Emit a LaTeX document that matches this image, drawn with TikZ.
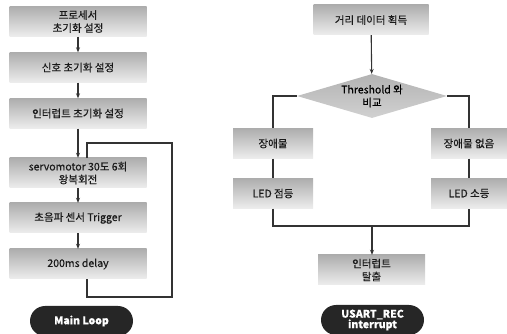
\documentclass[tikz,border=0pt]{standalone}
\usepackage{fontspec}
\setmainfont{Noto Sans CJK KR}[FakeBold=0.4]
\usetikzlibrary{shapes.geometric,arrows.meta}

\begin{document}
\begin{tikzpicture}[x=1pt, y=-1pt,
    box/.style={rectangle, top color=black!32, bottom color=black!7,
        minimum height=30pt, inner sep=1pt, align=center,
        font=\fontsize{10.5}{13}\selectfont, text=black!90},
    pill/.style={rectangle, rounded corners=15pt, fill=black!85,
        minimum width=103pt, minimum height=30pt, inner sep=1pt, align=center,
        text=white, font=\bfseries\fontsize{10.5}{10.5}\selectfont},
    line/.style={draw=black!80, line width=1.1pt},
    arr/.style={line, -{Stealth[length=5pt,width=4pt]}}]
    \clip (0, 0) rectangle (507, 334);
    % main loop
    \node[box, minimum width=137pt] (init1) at (78, 21.5) {프로세서\\초기화 설정};
    \node[box, minimum width=137pt] (init2) at (78, 67.5) {신호 초기화 설정};
    \node[box, minimum width=137pt] (init3) at (78, 113.5) {인터럽트 초기화 설정};
    \node[box, minimum width=137pt] (servo) at (78, 173) {servomotor 30도 6회\\왕복회전};
    \node[box, minimum width=137pt] (trig) at (78, 218) {초음파 센서 Trigger};
    \node[box, minimum width=137pt] (delay) at (78, 264) {200ms delay};
    \node[pill] (mainloop) at (81.5, 321) {Main Loop};
    \draw[arr] (init1) -- (init2);
    \draw[arr] (init2) -- (init3);
    \draw[arr] (init3) -- (servo);
    \draw[arr] (servo) -- (trig);
    \draw[arr] (trig) -- (delay);
    \coordinate (loopA) at (87, 297);
    \coordinate (loopB) at (172, 143);
    \draw[line] (delay.south -| loopA) -- (loopA) -| (loopB) -| (servo.north -| loopA);
    % interrupt
    \node[box, minimum width=115pt] (dist) at (371, 20) {거리 데이터 획득};
    \node[diamond, aspect=3.4, inner sep=0pt, minimum width=150pt, minimum height=44pt,
        top color=black!30, bottom color=black!18, align=center,
        font=\fontsize{10.5}{13}\selectfont] (cmp) at (372, 96) {Threshold 와\\비교};
    \node[box, minimum width=80pt] (obst) at (273, 143.5) {장애물};
    \node[box, minimum width=76pt] (noobst) at (469, 143.5) {장애물 없음};
    \node[box, minimum width=80pt] (ledon) at (273, 193.5) {LED 점등};
    \node[box, minimum width=76pt] (ledoff) at (469, 193.5) {LED 소등};
    \node[box, minimum width=107pt] (exit) at (371.5, 270) {인터럽트\\탈출};
    \node[pill] (usart) at (372.5, 320) {USART\_REC\\interrupt};
    \coordinate (merge) at (372, 226);
    \draw[arr] (dist) -- (cmp);
    \draw[line] (cmp.west) -| (obst.north);
    \draw[line] (cmp.east) -| (noobst.north);
    \draw[line] (obst) -- (ledon);
    \draw[line] (noobst) -- (ledoff);
    \draw[line] (ledon.south) |- (merge) -| (ledoff.south);
    \draw[arr] (merge) -- (exit.north -| merge);
\end{tikzpicture}
\end{document}
